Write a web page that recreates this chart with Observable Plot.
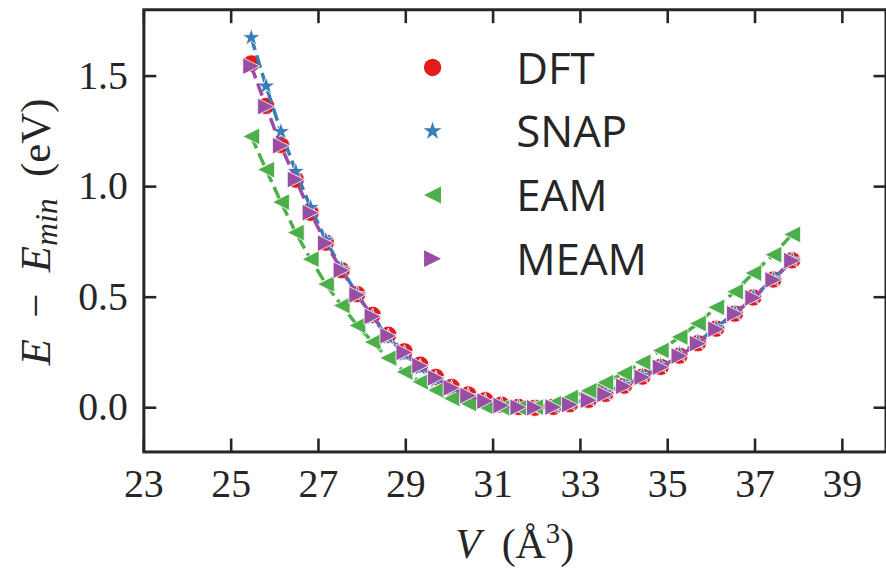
<!DOCTYPE html>
<html>
<head>
<meta charset="utf-8">
<script src="https://cdn.jsdelivr.net/npm/d3@7"></script>
<script src="https://cdn.jsdelivr.net/npm/@observablehq/plot@0.6"></script>
<style>
  html, body { margin: 0; padding: 0; background: #fff; overflow: hidden; width: 886px; height: 572px; }
  #chart { position: relative; width: 886px; height: 572px; overflow: hidden; }
</style>
</head>
<body>
<div id="chart"></div>
<script>
// ---- data ----
const volumes = [25.46, 25.80, 26.14, 26.48, 26.82, 27.17, 27.53, 27.89, 28.24, 28.60, 28.97,
                 29.33, 29.69, 30.05, 30.43, 30.82, 31.19, 31.58, 31.96, 32.38, 32.76, 33.19,
                 33.57, 34.00, 34.42, 34.84, 35.27, 35.69, 36.11, 36.54, 36.96, 37.42, 37.85];
const dftE  = [1.557, 1.365, 1.189, 1.032, 0.882, 0.747, 0.622, 0.514, 0.420, 0.330, 0.255,
               0.195, 0.139, 0.094, 0.060, 0.034, 0.014, 0.004, 0.000, 0.004, 0.016, 0.036,
               0.063, 0.100, 0.141, 0.185, 0.236, 0.292, 0.358, 0.426, 0.499, 0.580, 0.667];
const snapE = [1.674, 1.455, 1.249, 1.069, 0.906, 0.758, 0.628, 0.512, 0.408, 0.318, 0.242,
               0.180, 0.127, 0.084, 0.050, 0.025, 0.009, 0.001, 0.000, 0.005, 0.018, 0.040,
               0.068, 0.105, 0.146, 0.191, 0.242, 0.298, 0.362, 0.430, 0.502, 0.582, 0.668];
const eamE  = [1.227, 1.077, 0.930, 0.792, 0.672, 0.559, 0.462, 0.372, 0.297, 0.225, 0.162,
               0.117, 0.079, 0.042, 0.019, 0.005, 0.000, 0.000, 0.003, 0.019, 0.046, 0.077,
               0.114, 0.156, 0.206, 0.259, 0.320, 0.381, 0.454, 0.525, 0.609, 0.692, 0.784];
const meamE = [1.545, 1.362, 1.185, 1.032, 0.882, 0.744, 0.622, 0.510, 0.413, 0.325, 0.250,
               0.190, 0.135, 0.090, 0.055, 0.030, 0.010, 0.002, 0.000, 0.003, 0.014, 0.034,
               0.060, 0.097, 0.138, 0.183, 0.234, 0.290, 0.355, 0.425, 0.497, 0.578, 0.665];
const seriesNames = ["DFT", "SNAP", "EAM", "MEAM"];
const seriesColors = ["#e41a1c", "#377eb8", "#4daf4a", "#984ea3"];
const seriesLines = [false, true, true, true];
const seriesR = [8.7, 9.5, 8.5, 8.5];
const xTicks = [23, 25, 27, 29, 31, 33, 35, 37, 39];
const yTicks = [0.0, 0.5, 1.0, 1.5];

// ---- matplotlib-like marker shapes (size = r*r*PI) ----
const half = s => Math.sqrt(s / Math.PI);
const symCircle = {draw(c, s) { const r = half(s); c.moveTo(r, 0); c.arc(0, 0, r, 0, 2 * Math.PI); c.closePath(); }};
const symStar = {draw(c, s) {
  const r = half(s), ri = r * 0.381966;
  for (let i = 0; i < 10; i++) {
    const a = -Math.PI / 2 + i * Math.PI / 5, rr = i % 2 ? ri : r;
    const px = rr * Math.cos(a), py = rr * Math.sin(a);
    i ? c.lineTo(px, py) : c.moveTo(px, py);
  }
  c.closePath();
}};
const symTriLeft = {draw(c, s) { const r = half(s); c.moveTo(-r, 0); c.lineTo(r, -r); c.lineTo(r, r); c.closePath(); }};
const symTriRight = {draw(c, s) { const r = half(s); c.moveTo(r, 0); c.lineTo(-r, -r); c.lineTo(-r, r); c.closePath(); }};
const seriesSymbols = [symCircle, symStar, symTriLeft, symTriRight];
const seriesValues = [dftE, snapE, eamE, meamE];

const ink = "#262626";
const serif = "'Liberation Serif', 'DejaVu Serif', serif";
const sans = "'Open Sans', 'DejaVu Sans', sans-serif";

const marks = [];
seriesNames.forEach((name, k) => {
  const rows = volumes.map((v, i) => ({V: v, E: seriesValues[k][i]}));
  if (seriesLines[k]) {
    marks.push(Plot.line(rows, {x: "V", y: "E", stroke: seriesColors[k], strokeWidth: 3.5,
      strokeDasharray: "13,5.6", strokeLinecap: "butt"}));
  }
  marks.push(Plot.dot(rows, {x: "V", y: "E", symbol: seriesSymbols[k], r: seriesR[k],
    fill: seriesColors[k], stroke: "white", strokeWidth: 0.8}));
});

// legend (inside the frame, upper middle)
seriesNames.forEach((name, k) => {
  marks.push(Plot.dot([name], {x: null, y: null, frameAnchor: "top-left", dx: 290, dy: 58 + k * 64,
    symbol: seriesSymbols[k], r: seriesR[k], fill: seriesColors[k]}));
  marks.push(Plot.text([name], {x: null, y: null, text: d => d, frameAnchor: "top-left",
    lineAnchor: "middle", dx: 374, dy: 60 + k * 64, textAnchor: "start",
    fontFamily: sans, fontSize: 44, fill: ink}));
});

const tickStyle = {stroke: ink, strokeWidth: 2.6, fill: "none", tickSize: 13, label: null};

const chart = Plot.plot({
  width: 890,
  height: 572,
  marginLeft: 144,
  marginRight: 0.5,
  marginTop: 9.3,
  marginBottom: 118.5,
  x: {domain: [23, 40]},
  y: {domain: [-0.2, 1.8]},
  style: {fontFamily: serif, fontSize: "40px", color: ink, background: "white", overflow: "visible"},
  marks: [
    // tick labels
    Plot.axisX(xTicks, {anchor: "bottom", tickSize: 0, tickPadding: 17, label: null, fill: ink, fontSize: 40}),
    Plot.axisY(yTicks, {anchor: "left", tickSize: 0, tickPadding: 16, label: null, fill: ink, fontSize: 40,
      tickFormat: d3.format(".1f")}),
    // inward ticks on all four sides
    Plot.axisX(xTicks, {...tickStyle, anchor: "bottom", dy: -13}),
    Plot.axisX(xTicks, {...tickStyle, anchor: "top", dy: 13}),
    Plot.axisY(yTicks, {...tickStyle, anchor: "left", dx: 13}),
    Plot.axisY(yTicks, {...tickStyle, anchor: "right", dx: -13}),
    ...marks,
    Plot.frame({stroke: ink, strokeWidth: 3})
  ]
});

document.getElementById("chart").appendChild(chart);

// axis titles with math-style formatting
const svg = d3.select(chart);
const yl = svg.append("text")
  .attr("transform", "translate(50,233) rotate(-90)")
  .attr("text-anchor", "middle")
  .attr("font-family", serif).attr("font-size", 43).attr("fill", ink);
yl.append("tspan").attr("font-style", "italic").text("E");
yl.append("tspan").text("\u2002\u2212\u2002");
yl.append("tspan").attr("font-style", "italic").text("E");
yl.append("tspan").attr("font-style", "italic").attr("font-size", 32).attr("dy", 7).text("min");
yl.append("tspan").attr("dy", -7).text("\u2002(eV)");

const xl = svg.append("text")
  .attr("x", 517).attr("y", 561)
  .attr("text-anchor", "middle")
  .attr("font-family", serif).attr("font-size", 42).attr("fill", ink);
xl.append("tspan").attr("font-style", "italic").text("V");
xl.append("tspan").text("\u2002(\u00C5");
xl.append("tspan").attr("font-size", 29).attr("dy", -16).text("3");
xl.append("tspan").attr("dy", 16).text(")");
</script>
</body>
</html>
